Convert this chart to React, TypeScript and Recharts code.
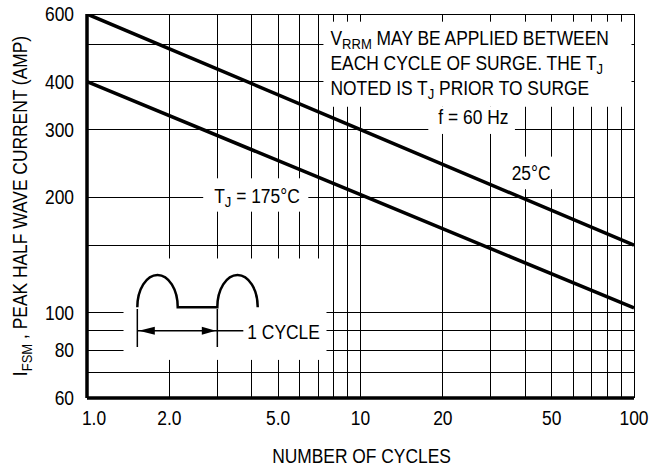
import React from "react";
import {
  CartesianGrid,
  Label,
  Line,
  LineChart,
  ReferenceArea,
  XAxis,
  YAxis,
} from "recharts";

// values (log-log straight lines)
const cycles = [1, 10, 100];
const tj25 = [600, 300, 150];
const tj175 = [400, 203, 103];

const xGrid = [1, 2, 3, 4, 5, 6, 7, 8, 9, 10, 20, 30, 40, 50, 60, 70, 80, 90, 100];
const xLabels = [1, 2, 5, 10, 20, 50, 100];
const yGrid = [60, 70, 80, 90, 100, 150, 200, 300, 400, 500, 600];
const yLabels = [60, 80, 100, 200, 300, 400, 600];

const data = cycles.map((c, i) => ({ cycles: c, tj25: tj25[i], tj175: tj175[i] }));

const FONT = "'Liberation Sans', Arial, sans-serif";
const FS = 20;
const SUB = 15;
const SQUEEZE = 0.87; // helvetica narrow look

// condensed text, anchored at x,y
const NT = ({ x, y, anchor = "start", rotate = 0, children }: any) => (
  <text
    transform={`translate(${x},${y}) rotate(${rotate}) scale(${SQUEEZE},1)`}
    textAnchor={anchor}
    fontSize={FS}
    fontFamily={FONT}
    fill="#000"
  >
    {children}
  </text>
);

const XTick = ({ x, y, payload }: any) => {
  const v = payload.value;
  if (!xLabels.includes(v)) return null;
  const txt = v < 10 ? v.toFixed(1) : String(v);
  return <NT x={x + (v === 1 ? 7 : 0)} y={y + 27} anchor="middle">{txt}</NT>;
};

const YTick = ({ x, y, payload }: any) => {
  const v = payload.value;
  if (!yLabels.includes(v)) return null;
  return <NT x={x - 13} y={y + 7} anchor="end">{v}</NT>;
};

const XTitle = ({ viewBox }: any) => (
  <NT x={viewBox.x + viewBox.width / 2 + 1} y={viewBox.y + 65} anchor="middle">
    NUMBER OF CYCLES
  </NT>
);

const YTitle = ({ viewBox }: any) => (
  <NT x={viewBox.x + 27} y={viewBox.y + viewBox.height / 2} anchor="middle" rotate={-90}>
    I<tspan fontSize={SUB} dy={5}>FSM</tspan>
    <tspan dy={-5}> , PEAK HALF WAVE CURRENT (AMP)</tspan>
  </NT>
);

const NoteBox = ({ x, y, width, height }: any) => (
  <g>
    <rect x={x} y={y} width={width} height={height} fill="#fff" />
    <NT x={x + 7} y={y + 23}>
      V<tspan fontSize={SUB} dy={4}>RRM</tspan>
      <tspan dy={-4}> MAY BE APPLIED BETWEEN</tspan>
    </NT>
    <NT x={x + 7} y={y + 48}>
      EACH CYCLE OF SURGE. THE T<tspan fontSize={SUB} dy={4}>J</tspan>
    </NT>
    <NT x={x + 7} y={y + 73}>
      NOTED IS T<tspan fontSize={SUB} dy={4}>J</tspan>
      <tspan dy={-4}> PRIOR TO SURGE</tspan>
    </NT>
  </g>
);

const FreqBox = ({ x, y, width, height }: any) => (
  <g>
    <rect x={x} y={y} width={width} height={height} fill="#fff" />
    <NT x={x + 10} y={y + 17}>f = 60 Hz</NT>
  </g>
);

const Label25 = ({ x, y, width, height }: any) => (
  <g>
    <rect x={x} y={y} width={width} height={height} fill="#fff" />
    <NT x={x + width / 2} y={y + 23} anchor="middle">25°C</NT>
  </g>
);

const Label175 = ({ x, y, width, height }: any) => (
  <g>
    <rect x={x} y={y} width={width} height={height} fill="#fff" />
    <NT x={x + 11} y={y + 25}>
      T<tspan fontSize={SUB} dy={4}>J</tspan>
      <tspan dy={-4}> = 175°C</tspan>
    </NT>
  </g>
);

const WaveBox = ({ x, y, width, height }: any) => {
  const a = x + 13.8;
  const b = x + 54.2;
  const c = x + 93.8;
  const d = x + 134.2;
  const base = y + 48.8;
  const ay = y + 72.2;
  return (
    <g>
      <rect x={x} y={y} width={width} height={height} fill="#fff" />
      <path
        d={`M${a},${base} A20.2,32.3 0 0 1 ${b},${base} L${c},${base} A20.2,32.3 0 0 1 ${d},${base}`}
        fill="none"
        stroke="#000"
        strokeWidth={2.5}
      />
      <line x1={a} y1={y + 50.5} x2={a} y2={y + 88.5} stroke="#000" strokeWidth={1.5} />
      <line x1={c} y1={y + 50.5} x2={c} y2={y + 88.5} stroke="#000" strokeWidth={1.5} />
      <line x1={a} y1={ay} x2={x + 119.8} y2={ay} stroke="#000" strokeWidth={1.5} />
      <polygon points={`${a + 1.5},${ay} ${a + 17.5},${ay - 4} ${a + 17.5},${ay + 4}`} fill="#000" />
      <polygon points={`${c - 1.5},${ay} ${c - 15.5},${ay - 4} ${c - 15.5},${ay + 4}`} fill="#000" />
      <NT x={x + 123.8} y={y + 80.5}>1 CYCLE</NT>
    </g>
  );
};

export default function App() {
  return (
    <div style={{ position: "absolute", left: 0, top: 0, width: 664, height: 470, background: "#fff" }}>
      <LineChart width={664} height={470} data={data} margin={{ top: 14, right: 30, bottom: 0, left: 0 }}>
        <CartesianGrid stroke="#000" strokeWidth={1} shapeRendering="crispEdges" />
        <XAxis
          dataKey="cycles"
          type="number"
          scale="log"
          domain={[1, 100]}
          ticks={xGrid}
          interval={0}
          allowDataOverflow
          height={72}
          tickSize={0}
          tickMargin={0}
          tickLine={false}
          axisLine={{ stroke: "#000", strokeWidth: 3.5 }}
          tick={<XTick />}
        >
          <Label content={<XTitle />} />
        </XAxis>
        <YAxis
          type="number"
          scale="log"
          domain={[60, 600]}
          ticks={yGrid}
          interval={0}
          allowDataOverflow
          width={87}
          tickSize={0}
          tickMargin={0}
          tickLine={false}
          axisLine={{ stroke: "#000", strokeWidth: 3.5 }}
          tick={<YTick />}
        >
          <Label content={<YTitle />} />
        </YAxis>
        <ReferenceArea x1={7.32} x2={97.9} y1={344} y2={573} ifOverflow="visible" shape={<NoteBox />} />
        <ReferenceArea x1={17.7} x2={36.7} y1={292.3} y2={344} ifOverflow="visible" shape={<FreqBox />} />
        <ReferenceArea x1={33.8} x2={52.3} y1={209.8} y2={255.1} ifOverflow="visible" shape={<Label25 />} />
        <ReferenceArea x1={2.66} x2={6.445} y1={183.4} y2={224} ifOverflow="visible" shape={<Label175 />} />
        <ReferenceArea x1={1.36} x2={7.51} y1={75.4} y2={138.5} ifOverflow="visible" shape={<WaveBox />} />
        <Line dataKey="tj25" type="linear" stroke="#000" strokeWidth={3.5} dot={false} isAnimationActive={false} />
        <Line dataKey="tj175" type="linear" stroke="#000" strokeWidth={3.5} dot={false} isAnimationActive={false} />
      </LineChart>
    </div>
  );
}
